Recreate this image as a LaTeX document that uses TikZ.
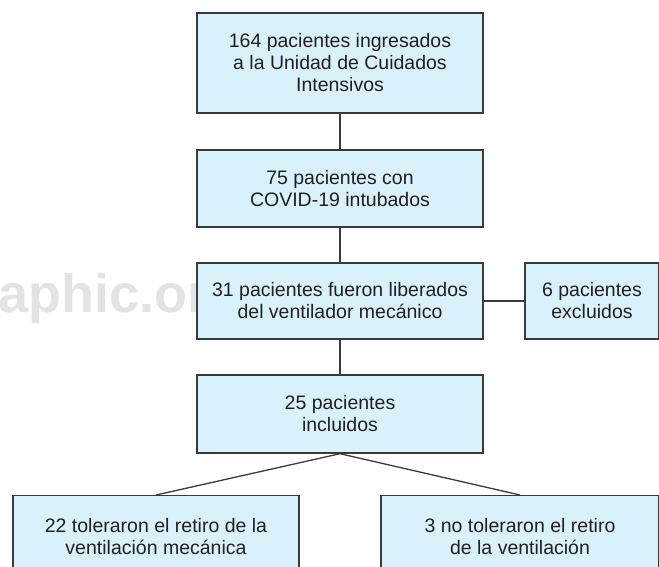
\documentclass[tikz,border=0pt]{standalone}
\usepackage{fontspec}
\setmainfont{Liberation Sans}
\definecolor{boxfill}{HTML}{D9F1FA}
\definecolor{boxline}{HTML}{3A3A3A}
\definecolor{txt}{HTML}{231F20}
\definecolor{wmark}{HTML}{E2E3E5}
\begin{document}
\begin{tikzpicture}[x=1pt,y=-1pt,
  box/.style={draw=boxline, line width=1.4pt, fill=boxfill, text=txt, align=center,
    inner sep=0pt, font=\fontsize{19.5}{22}\selectfont},
  link/.style={draw=boxline, line width=1.3pt}]
\useasboundingbox (0,0) rectangle (659,566);
\clip (0,0) rectangle (659,566);
\node[text=wmark, font=\fontsize{54}{60}\selectfont\bfseries, anchor=base west, inner sep=0pt] (wm) at (-2,312) {aphic.org};
\node[box, minimum width=286pt, minimum height=100pt] (b1) at (340,63) {164 pacientes ingresados\\a la Unidad de Cuidados\\Intensivos};
\node[box, minimum width=286pt, minimum height=77pt] (b2) at (340,188.5) {75 pacientes con\\COVID-19 intubados};
\node[box, minimum width=286pt, minimum height=76pt] (b3) at (340,301) {31 pacientes fueron liberados\\del ventilador mecánico};
\node[box, minimum width=134pt, minimum height=76pt] (b5) at (592,301) {6 pacientes\\excluidos};
\node[box, minimum width=286pt, minimum height=78pt] (b4) at (340,414) {25 pacientes\\incluidos};
\node[box, minimum width=286pt, minimum height=82pt, anchor=north] (b6) at (156,495) {22 toleraron el retiro de la\\ventilación mecánica};
\node[box, minimum width=278pt, minimum height=82pt, anchor=north] (b7) at (520,495) {3 no toleraron el retiro\\de la ventilación};
\draw[link] (b1.south) -- (b2.north);
\draw[link] (b2.south) -- (b3.north);
\draw[link] (b3.south) -- (b4.north);
\draw[link] (b3.east) -- (b5.west);
\draw[link] (b4.south) -- (b6.north);
\draw[link] (b4.south) -- (b7.north);
\end{tikzpicture}
\end{document}
